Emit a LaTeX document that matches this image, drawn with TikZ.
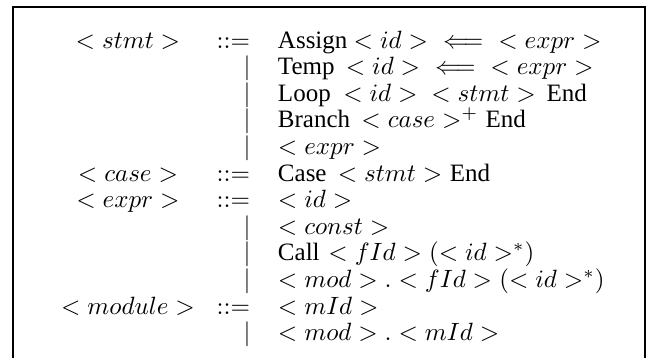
\documentclass[tikz,border=0pt]{standalone}
\usepackage{fontspec}
\setmainfont{Liberation Serif}
\begin{document}
\begin{tikzpicture}[x=0.4pt,y=-0.4pt,
  txt/.style={inner sep=0pt,outer sep=0pt},
  lhs/.style={txt,anchor=base},
  defop/.style={txt,anchor=base east},
  alt/.style={txt,anchor=base},
  rhs/.style={txt,anchor=base west},
  frame/.style={line width=1.1pt}]
\path[use as bounding box] (0,0) rectangle (655,358);
\begin{scope}
  \clip (0,0) rectangle (655,358);
  \draw[frame] (13,370) -- (13,7) -- (645,7) -- (645,370);
\end{scope}
% baselines of the twelve rows
\def\ra{48.2}\def\rb{74.8}\def\rc{101.4}\def\rd{128}\def\re{154.6}\def\rf{181.2}
\def\rg{207.8}\def\rh{234.4}\def\ri{261}\def\rj{287.6}\def\rk{314.2}\def\rl{340.8}
% left-hand sides
\node[lhs] (lstmt)   at (128,\ra) {$<stmt>$};
\node[lhs] (lcase)   at (128,\rf) {$<case>$};
\node[lhs] (lexpr)   at (128,\rg) {$<expr>$};
\node[lhs] (lmodule) at (128,\rk) {$<module>$};
% definition signs and alternatives
\node[defop] (dstmt)   at (250,\ra) {$::=$};
\node[defop] (dcase)   at (250,\rf) {$::=$};
\node[defop] (dexpr)   at (250,\rg) {$::=$};
\node[defop] (dmodule) at (250,\rk) {$::=$};
\node[alt] (b2)  at (247,\rb) {$|$};
\node[alt] (b3)  at (247,\rc) {$|$};
\node[alt] (b4)  at (247,\rd) {$|$};
\node[alt] (b5)  at (247,\re) {$|$};
\node[alt] (b8)  at (247,\rh) {$|$};
\node[alt] (b9)  at (247,\ri) {$|$};
\node[alt] (b10) at (247,\rj) {$|$};
\node[alt] (b12) at (247,\rl) {$|$};
% right-hand sides
\node[rhs] (r1)  at (278,\ra) {Assign $<id>$\hspace{6pt}$\Longleftarrow$\hspace{6pt}$<expr>$};
\node[rhs] (r2)  at (278,\rb) {Temp\hspace{4.5pt}$<id>$\hspace{6pt}$\Longleftarrow$\hspace{6pt}$<expr>$};
\node[rhs] (r3)  at (278,\rc) {Loop\hspace{5pt}$<id>$\hspace{5.5pt}$<stmt>$\hspace{4.3pt}End};
\node[rhs] (r4)  at (278,\rd) {Branch\hspace{4.5pt}$<case>^+$\hspace{3pt}End};
\node[rhs] (r5)  at (278,\re) {$<expr>$};
\node[rhs] (r6)  at (278,\rf) {Case\hspace{4.5pt}$<stmt>$\hspace{3pt}End};
\node[rhs] (r7)  at (278,\rg) {$<id>$};
\node[rhs] (r8)  at (278,\rh) {$<const>$};
\node[rhs] (r9)  at (278,\ri) {Call\hspace{3.5pt}$<fId>(<id>^*)$};
\node[rhs] (r10) at (278,\rj) {$<mod>.<fId>(<id>^*)$};
\node[rhs] (r11) at (278,\rk) {$<mId>$};
\node[rhs] (r12) at (278,\rl) {$<mod>.<mId>$};
\end{tikzpicture}
\end{document}
